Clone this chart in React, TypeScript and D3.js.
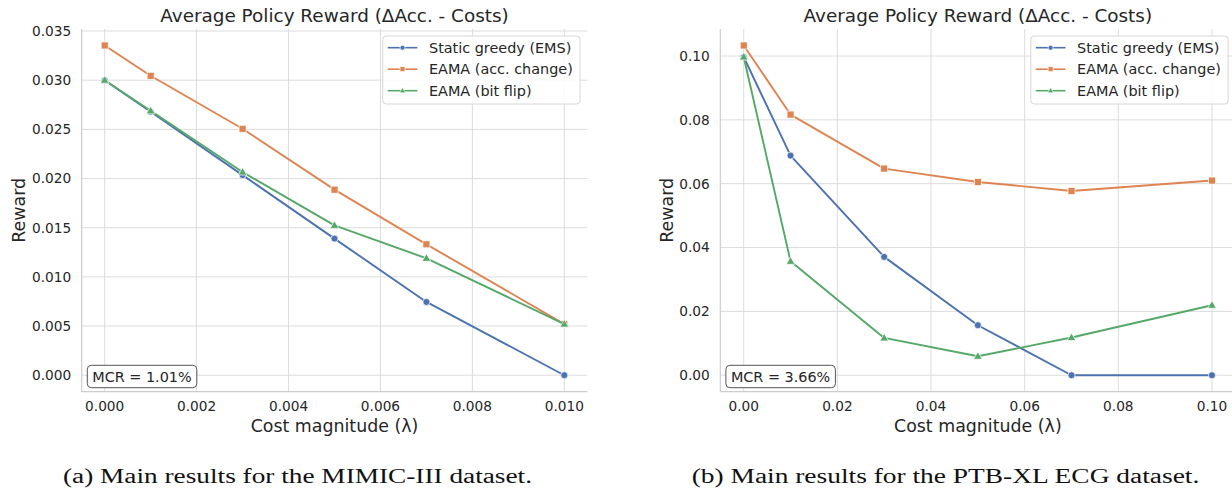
import React from "react";
import * as d3 from "d3";

const seriesNames = ["Static greedy (EMS)", "EAMA (acc. change)", "EAMA (bit flip)"];
const seriesColors = ["#4c72b0", "#dd8452", "#55a868"];
const seriesMarkers = ["circle", "square", "triangle"];

const mimicX = [0, 0.001, 0.003, 0.005, 0.007, 0.01];
const mimicGreedy = [0.03, 0.0268, 0.02035, 0.01389, 0.00745, 0.0];
const mimicAcc = [0.03353, 0.03045, 0.02506, 0.01887, 0.01331, 0.0052];
const mimicBit = [0.03, 0.02689, 0.02066, 0.01524, 0.01189, 0.0052];
const mimicXTicks = [0, 0.002, 0.004, 0.006, 0.008, 0.01];
const mimicYTicks = [0, 0.005, 0.01, 0.015, 0.02, 0.025, 0.03, 0.035];

const ptbX = [0, 0.01, 0.03, 0.05, 0.07, 0.1];
const ptbGreedy = [0.0997, 0.0688, 0.03707, 0.01566, 0.0, 0.0];
const ptbAcc = [0.1033, 0.08166, 0.06474, 0.06055, 0.05773, 0.06098];
const ptbBit = [0.0997, 0.0357, 0.01169, 0.00595, 0.0118, 0.02193];
const ptbXTicks = [0, 0.02, 0.04, 0.06, 0.08, 0.1];
const ptbYTicks = [0, 0.02, 0.04, 0.06, 0.08, 0.1];

const TITLE = "Average Policy Reward (\u0394Acc. - Costs)";
const XLABEL = "Cost magnitude (\u03bb)";
const YLABEL = "Reward";

const FONT = "'DejaVu Sans', sans-serif";
const TEXT = "#262626";

function Marker({ kind, x, y, color, size }: any) {
  if (kind === "circle")
    return <circle cx={x} cy={y} r={size / 2} fill={color} stroke="#fff" strokeWidth={0.7} />;
  if (kind === "square")
    return (
      <rect x={x - size / 2} y={y - size / 2} width={size} height={size} fill={color} stroke="#fff" strokeWidth={0.7} />
    );
  const s = size * 0.62;
  const path = `M${x},${y - s * 1.05} L${x + s},${y + s * 0.7} L${x - s},${y + s * 0.7} Z`;
  return <path d={path} fill={color} stroke="#fff" strokeWidth={0.7} />;
}

function Panel({ left, right, xs, ys, xTicks, yTicks, xFmt, yFmt, mcr, caption, captionLen, captionCx, yLabelX }: any) {
  const top = 29;
  const bottom = 391.7;
  const allY = ys.flat();
  const yMin = Math.min(0, d3.min(allY) as number);
  const yMax = d3.max(allY) as number;
  const yPad = (yMax - yMin) * 0.05;
  const xMin = d3.min(xs) as number;
  const xMax = d3.max(xs) as number;
  const xPad = (xMax - xMin) * 0.05;
  const x = d3.scaleLinear().domain([xMin - xPad, xMax + xPad]).range([left, right]);
  const y = d3.scaleLinear().domain([yMin - yPad, yMax + yPad]).range([bottom, top]);
  const line = d3
    .line<number>()
    .x((_, i) => x(xs[i]))
    .y((d) => y(d));
  const cx = (left + right) / 2;
  const cy = (top + bottom) / 2;
  const legX = right - 7.3 - 197.3;
  const legY = 36;
  return (
    <g>
      {/* grid */}
      {xTicks.map((t: number, i: number) => (
        <line key={"gx" + i} x1={x(t)} x2={x(t)} y1={top} y2={bottom} stroke="#dcdcdc" strokeWidth={1} />
      ))}
      {yTicks.map((t: number, i: number) => (
        <line key={"gy" + i} x1={left} x2={right} y1={y(t)} y2={y(t)} stroke="#dcdcdc" strokeWidth={1} />
      ))}
      {/* spines */}
      <line x1={left} x2={left} y1={top} y2={bottom} stroke="#cccccc" strokeWidth={1.2} />
      <line x1={left} x2={right} y1={bottom} y2={bottom} stroke="#cccccc" strokeWidth={1.2} />
      {/* tick labels */}
      {xTicks.map((t: number, i: number) => (
        <text key={"tx" + i} x={x(t)} y={411} textAnchor="middle" fontSize={13.7} fill={TEXT} fontFamily={FONT}>
          {xFmt(t)}
        </text>
      ))}
      {yTicks.map((t: number, i: number) => (
        <text key={"ty" + i} x={left - 10.5} y={y(t)} dy="0.36em" textAnchor="end" fontSize={13.7} fill={TEXT} fontFamily={FONT}>
          {yFmt(t)}
        </text>
      ))}
      {/* labels */}
      <text x={cx} y={22} textAnchor="middle" fontSize={18.4} fill={TEXT} fontFamily={FONT}>
        {TITLE}
      </text>
      <text x={cx} y={432} textAnchor="middle" fontSize={17.4} fill={TEXT} fontFamily={FONT}>
        {XLABEL}
      </text>
      <text
        transform={`translate(${yLabelX},${cy}) rotate(-90)`}
        textAnchor="middle"
        fontSize={17.4}
        fill={TEXT}
        fontFamily={FONT}
      >
        {YLABEL}
      </text>
      {/* lines */}
      {ys.map((s: number[], k: number) => (
        <g key={"s" + k}>
          <path d={line(s) || ""} fill="none" stroke={seriesColors[k]} strokeWidth={1.9} strokeLinejoin="round" />
          {s.map((v: number, i: number) => (
            <Marker key={i} kind={seriesMarkers[k]} x={x(xs[i])} y={y(v)} color={seriesColors[k]} size={7} />
          ))}
        </g>
      ))}
      {/* legend */}
      <rect x={legX} y={legY} width={197.3} height={68} rx={3.5} fill="#fff" fillOpacity={0.85} stroke="#d6d6d6" strokeWidth={1} />
      {seriesNames.map((n, k) => {
        const ry = legY + 11.7 + k * 21.5;
        return (
          <g key={"l" + k}>
            <line x1={legX + 5} x2={legX + 34.7} y1={ry} y2={ry} stroke={seriesColors[k]} strokeWidth={1.6} />
            <Marker kind={seriesMarkers[k]} x={legX + 19.8} y={ry} color={seriesColors[k]} size={5} />
            <text x={legX + 46.3} y={ry} dy="0.36em" fontSize={14.4} fill={TEXT} fontFamily={FONT}>
              {n}
            </text>
          </g>
        );
      })}
      {/* MCR box */}
      <rect x={left + 5.6} y={365.3} width={109.5} height={22.4} rx={4} fill="#fff" stroke="#555" strokeWidth={1} />
      <text x={left + 5.6 + 54.7} y={381.6} textAnchor="middle" fontSize={14.4} fill={TEXT} fontFamily={FONT}>
        {mcr}
      </text>
      {/* caption */}
      <text
        x={captionCx}
        y={483}
        textAnchor="middle"
        fontSize={20}
        fill="#111"
        fontFamily="'Liberation Serif', serif"
        textLength={captionLen}
        lengthAdjust="spacingAndGlyphs"
      >
        {caption}
      </text>
    </g>
  );
}

export default function App() {
  return (
    <svg
      width={1232}
      height={489}
      viewBox="0 0 1232 489"
      style={{ position: "absolute", left: 0, top: 0, background: "#fff" }}
    >
      <rect x={0} y={0} width={1232} height={489} fill="#fff" />
      <Panel
        left={81.7}
        right={587.3}
        xs={mimicX}
        ys={[mimicGreedy, mimicAcc, mimicBit]}
        xTicks={mimicXTicks}
        yTicks={mimicYTicks}
        xFmt={d3.format(".3f")}
        yFmt={d3.format(".3f")}
        mcr="MCR = 1.01%"
        caption="(a) Main results for the MIMIC-III dataset."
        captionLen={469}
        captionCx={297.5}
        yLabelX={25}
      />
      <Panel
        left={720.3}
        right={1235.4}
        xs={ptbX}
        ys={[ptbGreedy, ptbAcc, ptbBit]}
        xTicks={ptbXTicks}
        yTicks={ptbYTicks}
        xFmt={d3.format(".2f")}
        yFmt={d3.format(".2f")}
        mcr="MCR = 3.66%"
        caption="(b) Main results for the PTB-XL ECG dataset."
        captionLen={507.6}
        captionCx={945.5}
        yLabelX={673.3}
      />
    </svg>
  );
}
